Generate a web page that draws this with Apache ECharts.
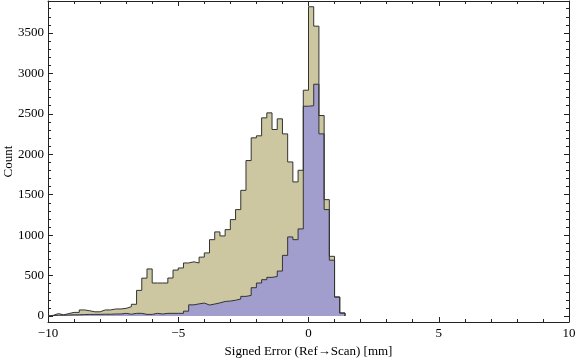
<!DOCTYPE html>
<html>
<head>
<meta charset="utf-8">
<script src="https://cdn.jsdelivr.net/npm/echarts@6/dist/echarts.min.js"></script>
<style>
  html, body { margin: 0; padding: 0; background: #fff; }
  #chart { width: 576px; height: 362px; }
</style>
</head>
<body>
<div id="chart"></div>
<script>
// histogram bins: 0.2 mm wide, starting at -10 mm
const binStart = -10;
const binWidth = 0.2;

// first (tan) histogram, counts per bin
const tanCounts = [
  8, 30, 15, 30, 45, 45, 75, 65, 52, 52,
  75, 75, 87, 87, 95, 115, 145, 317, 468, 582,
  408, 408, 408, 470, 568, 594, 656, 670, 656, 728,
  780, 944, 1040, 990, 1068, 1192, 1316, 1554, 1922, 2203,
  2228, 2450, 2512, 2306, 2438, 2252, 1905, 1658, 1802, 2792,
  3824, 3584, 2479, 1439, 738, 235, 37
];

// second (blue) histogram, same bins
const blueCounts = [
  5, 10, 10, 12, 15, 15, 18, 20, 20, 20,
  22, 22, 25, 25, 33, 22, 33, 33, 20, 20,
  33, 25, 33, 33, 33, 33, 60, 138, 150, 160,
  136, 148, 162, 180, 185, 195, 210, 243, 255, 350,
  408, 449, 478, 488, 556, 750, 978, 944, 1077, 2594,
  2600, 2866, 2252, 1316, 690, 235, 37
];

const countTicks = [0, 500, 1000, 1500, 2000, 2500, 3000, 3500];
const minorCountTicks = [];
for (let v = 0; v <= 3800; v += 100) minorCountTicks.push(v);

const frameColor = '#222';
const font = { fontFamily: 'Liberation Serif', fontSize: 13, color: '#000' };

// turn counts into step points: [left edge, count], closed at the last edge
function toSteps(counts) {
  const pts = [[binStart, 0]];
  counts.forEach((c, i) => pts.push([binStart + i * binWidth, c]));
  pts.push([binStart + counts.length * binWidth, 0]);
  return pts;
}

const minus = v => (v < 0 ? '\u2212' + Math.abs(v) : String(v));

const yBase = {
  type: 'value',
  min: -74,
  max: 3895,
  splitLine: { show: false },
  axisLine: { onZero: false, lineStyle: { color: frameColor } }
};

const chart = echarts.init(document.getElementById('chart'));
chart.setOption({
  animation: false,
  grid: { left: 48, right: 7, top: 1, bottom: 40, containLabel: false, outerBoundsMode: 'none' },
  xAxis: [
    {
      type: 'value',
      min: -10,
      max: 10,
      interval: 5,
      position: 'bottom',
      splitLine: { show: false },
      axisLine: { onZero: false, lineStyle: { color: frameColor } },
      axisTick: { inside: true, length: 5, lineStyle: { color: frameColor } },
      minorTick: { show: true, splitNumber: 5, length: 3, lineStyle: { color: frameColor } },
      axisLabel: { ...font, margin: 5, formatter: minus },
      name: 'Signed Error (Ref\u2192Scan) [mm]',
      nameLocation: 'middle',
      nameGap: 23,
      nameMoveOverlap: false,
      nameTextStyle: font
    },
    {
      type: 'value',
      min: -10,
      max: 10,
      interval: 5,
      position: 'top',
      splitLine: { show: false },
      axisLine: { onZero: false, lineStyle: { color: frameColor } },
      axisTick: { inside: true, length: 5, lineStyle: { color: frameColor } },
      minorTick: { show: true, splitNumber: 5, length: 3, lineStyle: { color: frameColor } },
      axisLabel: { show: false }
    }
  ],
  yAxis: [
    {
      ...yBase,
      position: 'left',
      axisTick: { inside: true, length: 5, customValues: countTicks, lineStyle: { color: frameColor } },
      axisLabel: { ...font, margin: 4, customValues: countTicks, formatter: v => String(v) },
      name: 'Count',
      nameLocation: 'middle',
      nameGap: 33,
      nameMoveOverlap: false,
      nameTextStyle: font
    },
    {
      ...yBase,
      position: 'left',
      axisLine: { show: false, onZero: false },
      axisTick: { inside: true, length: 3, customValues: minorCountTicks, lineStyle: { color: frameColor } },
      axisLabel: { show: false }
    },
    {
      ...yBase,
      position: 'right',
      axisTick: { inside: true, length: 5, customValues: countTicks, lineStyle: { color: frameColor } },
      axisLabel: { show: false }
    },
    {
      ...yBase,
      position: 'right',
      axisLine: { show: false, onZero: false },
      axisTick: { inside: true, length: 3, customValues: minorCountTicks, lineStyle: { color: frameColor } },
      axisLabel: { show: false }
    }
  ],
  series: [
    {
      type: 'line',
      step: 'end',
      data: toSteps(tanCounts),
      showSymbol: false,
      lineStyle: { color: '#333', width: 1 },
      areaStyle: { color: '#CCC7A1', opacity: 1 }
    },
    {
      type: 'line',
      step: 'end',
      data: toSteps(blueCounts),
      showSymbol: false,
      lineStyle: { color: '#333', width: 1 },
      areaStyle: { color: '#A19ECD', opacity: 1 }
    }
  ]
});
</script>
</body>
</html>
